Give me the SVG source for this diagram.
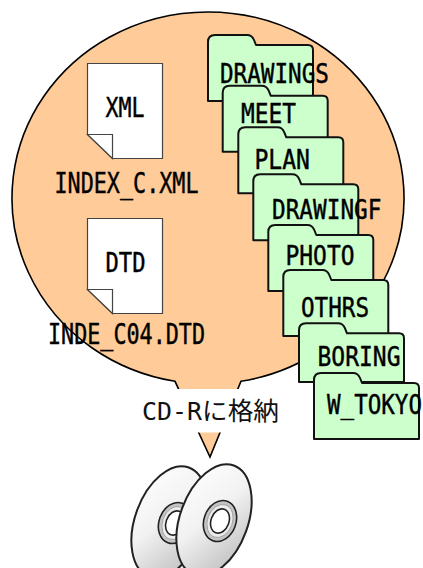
<svg xmlns="http://www.w3.org/2000/svg" xmlns:xlink="http://www.w3.org/1999/xlink" width="423" height="568" viewBox="0 0 423 568">
  <style>
    .bubble { fill: #FFCC99; stroke: #000; stroke-width: 1.6; }
    .doc { fill: #fff; stroke: #444; stroke-width: 1.2; stroke-linejoin: miter; }
    .folder { fill: #CCFFCC; stroke: #111; stroke-width: 2; stroke-linejoin: round; }
    .mono { font-family: "DejaVu Sans Mono", "Liberation Mono", monospace; fill: #000; stroke: #000; stroke-width: 0.45; }
    .lbl { font-size: 27px; }
    .cap { font-family: "DejaVu Sans Mono", "Liberation Mono", monospace; font-size: 24px; fill: #111; }
    .jp { font-family: "Noto Sans CJK JP", "Noto Sans", sans-serif; font-size: 25px; fill: #111; }
    .disc-body { fill: url(#discShade); stroke: #222; stroke-width: 2; }
    .hub-outer { fill: #c4c4c4; stroke: #222; stroke-width: 1.6; }
    .hub-mid { fill: #ececec; stroke: #999; stroke-width: 0.8; }
    .hub-hole { fill: #fff; stroke: #222; stroke-width: 1.6; }
  </style>
  <defs>
    <linearGradient id="discShade" x1="0" y1="0" x2="1" y2="1">
      <stop offset="0" stop-color="#ffffff"/>
      <stop offset="0.45" stop-color="#f2f2f2"/>
      <stop offset="1" stop-color="#b8b8b8"/>
    </linearGradient>
    <!-- folder outline: tab at top-left, rounded top-right corner -->
    <path id="folderShape" d="M0,66 V7 Q0,0 7,0 H39 Q44,0 46,5 L48,10 H100 Q105,10 105,15 V66 Z"/>
    <!-- tilted CD-R disc, centred on the origin -->
    <g id="disc">
      <ellipse class="disc-body" cx="0" cy="0" rx="34" ry="58" transform="rotate(20)"/>
      <g transform="translate(6,1) rotate(20)">
        <ellipse class="hub-outer" cx="0" cy="0" rx="16" ry="21"/>
        <ellipse class="hub-mid" cx="0" cy="0" rx="12.5" ry="17"/>
        <ellipse class="hub-hole" cx="0" cy="0" rx="9" ry="12.5"/>
      </g>
    </g>
  </defs>

  <!-- speech-bubble backdrop with its tail pointing down -->
  <g id="bubble">
    <path class="bubble" d="M175,381.3 A196,186 0 1 1 241,381.3 L210,457 Z"/>
  </g>

  <!-- document files -->
  <g id="doc-xml">
    <path class="doc" d="M87.5,63.5 H162.5 V158.5 H112.5 L87.5,134.5 Z"/>
    <path class="doc" d="M87.5,134.5 H112.5 V158.5 Z"/>
    <text class="mono lbl" x="105.5" y="117" textLength="39" lengthAdjust="spacingAndGlyphs">XML</text>
    <text class="mono" font-size="28" x="54.5" y="193" textLength="144" lengthAdjust="spacingAndGlyphs">INDEX_C.XML</text>
  </g>
  <g id="doc-dtd">
    <path class="doc" d="M87.5,218.5 H162.5 V313.5 H112.5 L87.5,289.5 Z"/>
    <path class="doc" d="M87.5,289.5 H112.5 V313.5 Z"/>
    <text class="mono lbl" x="105.5" y="271.5" textLength="40" lengthAdjust="spacingAndGlyphs">DTD</text>
    <text class="mono" font-size="28" x="48" y="344" textLength="157" lengthAdjust="spacingAndGlyphs">INDE_C04.DTD</text>
  </g>

  <!-- folder stack -->
  <g id="folder-drawings">
    <use xlink:href="#folderShape" class="folder" x="208" y="35"/>
    <text class="mono lbl" x="220" y="83.3" textLength="109" lengthAdjust="spacingAndGlyphs">DRAWINGS</text>
  </g>
  <g id="folder-meet">
    <use xlink:href="#folderShape" class="folder" x="222.7" y="85.7"/>
    <text class="mono lbl" x="241" y="123.3" textLength="55" lengthAdjust="spacingAndGlyphs">MEET</text>
  </g>
  <g id="folder-plan">
    <use xlink:href="#folderShape" class="folder" x="238.3" y="127.3"/>
    <text class="mono lbl" x="254.5" y="169" textLength="55.5" lengthAdjust="spacingAndGlyphs">PLAN</text>
  </g>
  <g id="folder-drawingf">
    <use xlink:href="#folderShape" class="folder" x="253.3" y="174.3"/>
    <text class="mono lbl" x="272" y="219" textLength="109.5" lengthAdjust="spacingAndGlyphs">DRAWINGF</text>
  </g>
  <g id="folder-photo">
    <use xlink:href="#folderShape" class="folder" x="268.3" y="225"/>
    <text class="mono lbl" x="285.5" y="265" textLength="69" lengthAdjust="spacingAndGlyphs">PHOTO</text>
  </g>
  <g id="folder-othrs">
    <use xlink:href="#folderShape" class="folder" x="283.3" y="270"/>
    <text class="mono lbl" x="301" y="317.3" textLength="68" lengthAdjust="spacingAndGlyphs">OTHRS</text>
  </g>
  <g id="folder-boring">
    <path class="folder" d="M299,382 V330.3 Q299,323.3 306,323.3 H338 Q343,323.3 345,328.3 L347,333.3 H399 Q404,333.3 404,338.3 V382 Z"/>
    <text class="mono lbl" x="317.5" y="365.7" textLength="83" lengthAdjust="spacingAndGlyphs">BORING</text>
  </g>
  <g id="folder-w-tokyo">
    <use xlink:href="#folderShape" class="folder" x="314" y="373"/>
    <text class="mono lbl" x="327" y="414" textLength="95" lengthAdjust="spacingAndGlyphs">W_TOKYO</text>
  </g>

  <!-- caption band laid over the bubble tail -->
  <g id="caption">
    <rect x="132" y="389" width="150" height="43.5" fill="#fff"/>
    <text class="cap" x="142" y="419.5" textLength="60" lengthAdjust="spacingAndGlyphs">CD-R</text>
    <text class="jp" x="202" y="419.5" textLength="77" lengthAdjust="spacingAndGlyphs">に格納</text>
  </g>

  <!-- pair of discs -->
  <g id="cd-back">
    <use xlink:href="#disc" x="169" y="522"/>
  </g>
  <g id="cd-front">
    <use xlink:href="#disc" x="214" y="520"/>
  </g>
</svg>
